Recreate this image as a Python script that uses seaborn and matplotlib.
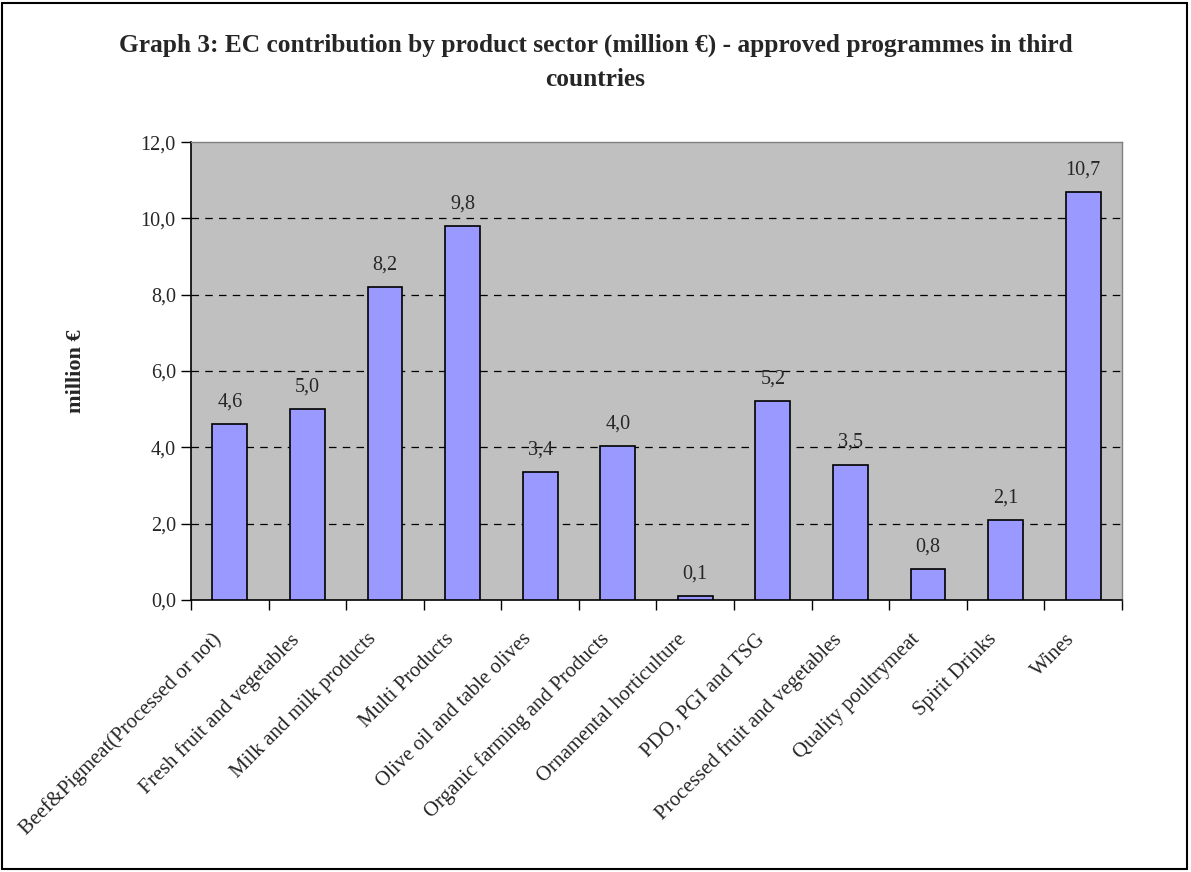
import matplotlib
matplotlib.use("Agg")
import matplotlib.pyplot as plt
import matplotlib.transforms as mtransforms
import seaborn as sns
import pandas as pd
from matplotlib.patches import Rectangle
from matplotlib.ticker import FixedLocator

categories = [
    "Beef&Pigmeat(Processed or not)",
    "Fresh fruit and vegetables",
    "Milk and milk products",
    "Multi Products",
    "Olive oil and table olives",
    "Organic farming and Products",
    "Ornamental horticulture",
    "PDO, PGI and TSG",
    "Processed fruit and vegetables",
    "Quality poultrymeat",
    "Spirit Drinks",
    "Wines",
]
values = [4.6, 5.0, 8.2, 9.8, 3.35, 4.03, 0.1, 5.22, 3.55, 0.82, 2.1, 10.7]
labels = ["4,6", "5,0", "8,2", "9,8", "3,4", "4,0", "0,1", "5,2", "3,5", "0,8", "2,1", "10,7"]
yticks = [0, 2, 4, 6, 8, 10, 12]
yticklabels = ["0,0", "2,0", "4,0", "6,0", "8,0", "10,0", "12,0"]

sns.set_style("white")
plt.rcParams["font.family"] = ["Liberation Serif", "DejaVu Serif"]

df = pd.DataFrame({"cat": categories, "val": values})

fig = plt.figure(figsize=(11.91, 8.72), dpi=100)
ax = fig.add_axes([0.1604, 0.312, 0.7816, 0.525])
ax.set_facecolor("#C0C0C0")

sns.barplot(data=df, x="cat", y="val", ax=ax, color="#9999FF",
            saturation=1, width=0.45, edgecolor="black", linewidth=1.2, zorder=3)

ax.set_ylim(0, 12)
ax.set_xlim(-0.5, len(categories) - 0.5)
ax.set_yticks(yticks)
ax.set_yticklabels(yticklabels, fontsize=14.5)
for y in yticks[1:-1]:
    ax.axhline(y, color="black", linestyle=(0, (6, 5)), linewidth=0.9, zorder=1)

ax.set_xticks(range(len(categories)))
ax.set_xticklabels(categories, rotation=45, ha="right", rotation_mode="anchor", fontsize=15)
ax.tick_params(axis="x", which="major", length=0, pad=21.5)
shift = mtransforms.ScaledTranslation(-13 / 72, 0, fig.dpi_scale_trans)
for t in ax.get_xticklabels():
    t.set_transform(t.get_transform() + shift)
ax.xaxis.set_minor_locator(FixedLocator([i + 0.5 for i in range(-1, len(categories))]))
ax.tick_params(axis="x", which="minor", length=7, width=1, color="black", direction="out", bottom=True)
ax.tick_params(axis="y", length=7, width=1, color="black", direction="out", left=True, pad=4)

for s in ["top", "right"]:
    ax.spines[s].set_color("#808080")
    ax.spines[s].set_linewidth(1)
for s in ["left", "bottom"]:
    ax.spines[s].set_color("black")
    ax.spines[s].set_linewidth(1.2)

for i, (v, lab) in enumerate(zip(values, labels)):
    ax.text(i, v + 0.33, lab, ha="center", va="bottom", fontsize=14.5)

ax.set_xlabel("")
ax.set_ylabel("")
fig.text(0.064, 0.5 * (0.312 + 0.837), "million €", rotation=90, ha="center", va="center",
         fontsize=16, fontweight="bold")

fig.text(0.5, 1 - 45 / 872, "Graph 3: EC contribution by product sector (million €) - approved programmes in third",
         ha="center", va="center", fontsize=18.3, fontweight="bold")
fig.text(0.5, 1 - 80 / 872, "countries",
         ha="center", va="center", fontsize=18.3, fontweight="bold")

fig.patches.append(Rectangle((0.002, 0.003), 0.995, 0.993, transform=fig.transFigure,
                             fill=False, edgecolor="black", linewidth=1.5))

fig.savefig("out.png", dpi=100)
